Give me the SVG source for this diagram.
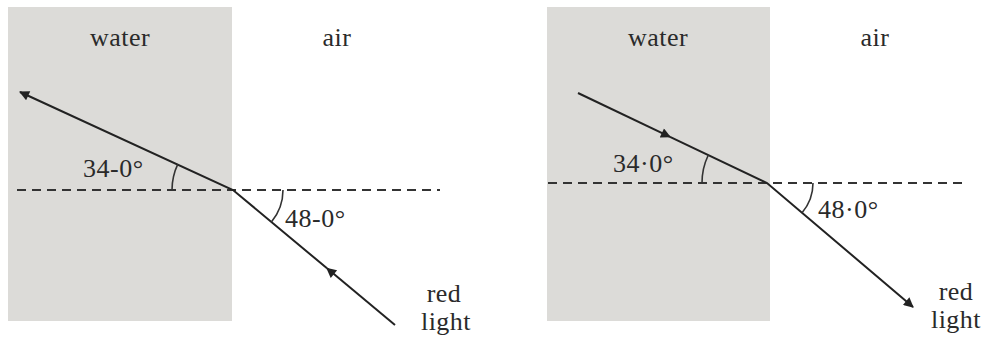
<svg xmlns="http://www.w3.org/2000/svg" width="992" height="345" viewBox="0 0 992 345">
<defs>
<marker id="ah" viewBox="0 0 10 10" refX="9" refY="5" markerWidth="14" markerHeight="10" markerUnits="userSpaceOnUse" orient="auto"><path d="M0,0 L10,5 L0,10 Z" fill="#222"/></marker>
</defs>
<style>
.bg{fill:#dcdbd8}
.ray{stroke:#222;stroke-width:2;fill:none}
.dash{stroke:#333;stroke-width:2;stroke-dasharray:9 6;fill:none}
.arc{stroke:#333;stroke-width:1.6;fill:none}
.t{fill:#2a2a2a;font-size:26px;letter-spacing:0.5px}
.c{text-anchor:middle}
</style>
<rect width="992" height="345" fill="#fff"/>
<g id="left" font-family="'Liberation Serif', 'Times New Roman', serif">
<rect class="bg" x="8" y="7" width="224" height="314"/>
<text class="t c" x="120" y="46">water</text>
<text class="t c" x="337" y="46">air</text>
<text class="t" x="83" y="177">34-0°</text>
<text class="t" x="285" y="227">48-0°</text>
<text class="t c" x="444" y="302">red</text>
<text class="t c" x="446" y="330">light</text>
</g>
<g id="right" font-family="'Liberation Serif', 'Times New Roman', serif">
<rect class="bg" x="547" y="7" width="223" height="314"/>
<text class="t c" x="658" y="46">water</text>
<text class="t c" x="875" y="46">air</text>
<text class="t" x="613" y="172">34·0°</text>
<text class="t" x="818" y="218">48·0°</text>
<text class="t c" x="956" y="300">red</text>
<text class="t c" x="956" y="328">light</text>
</g>
<g id="connectors">
<line class="dash" x1="17" y1="190" x2="440" y2="190"/>
<path class="ray" d="M395,325 L327,268.3" marker-end="url(#ah)"/>
<path class="ray" d="M327,268.3 L233,190 L20,92" marker-end="url(#ah)"/>
<path class="arc" d="M172,190 A61,61 0 0 1 177.8,164.2"/>
<path class="arc" d="M283,190 A50,50 0 0 1 271.4,222"/>
<line class="dash" x1="548" y1="183" x2="968" y2="183"/>
<path class="ray" d="M578,93 L670,136.8" marker-end="url(#ah)"/>
<path class="ray" d="M670,136.8 L767,183 L913,307" marker-end="url(#ah)"/>
<path class="arc" d="M702,183 A65,65 0 0 1 708.3,155"/>
<path class="arc" d="M813,183 A46,46 0 0 1 802.1,212.7"/>
</g>
</svg>
